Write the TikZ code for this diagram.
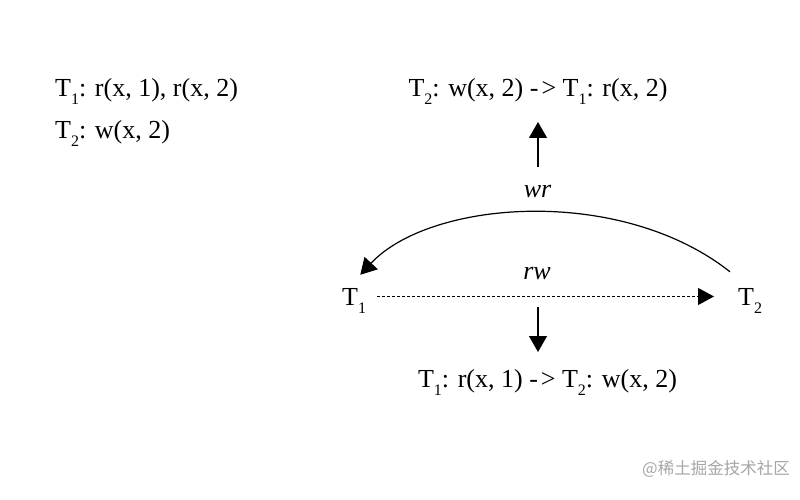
\documentclass[tikz,border=0pt]{standalone}
\usepackage{fontspec}
\setmainfont{Liberation Serif}
\newfontfamily\cjk{Noto Sans CJK SC}
\usetikzlibrary{arrows.meta}
\newcommand\sbs[1]{\raisebox{-8pt}{\fontsize{16}{16}\selectfont #1}}
\newcommand\arw{-\kern3pt>}
\begin{document}
\begin{tikzpicture}[x=1pt,y=-1pt,
  txt/.style={inner sep=0pt, font=\fontsize{26}{30}\selectfont},
  lbl/.style={inner sep=0pt, font=\fontsize{26}{30}\selectfont\itshape},
  arr/.style={line width=1.2pt, -{Triangle[length=16pt,width=18pt]}},
  dsh/.style={line width=1pt, dash pattern=on 3pt off 2pt, -{Triangle[length=16pt,width=17pt]}}]
\fill[white] (0,0) rectangle (800,500);
\useasboundingbox (0,0) rectangle (800,500);

% schedule text
\node[txt, anchor=base west] (l1) at (55,97) {T\sbs{1}: r(x, 1), r(x, 2)};
\node[txt, anchor=base west] (l2) at (55,139) {T\sbs{2}: w(x, 2)};

% dependency texts
\node[txt, anchor=base] (top) at (538,97) {T\sbs{2}: w(x, 2) \arw{} T\sbs{1}: r(x, 2)};
\node[txt, anchor=base] (bot) at (547.5,387) {T\sbs{1}: r(x, 1) \arw{} T\sbs{2}: w(x, 2)};

% transactions
\node[txt, anchor=base west] (T1) at (342,305) {T\sbs{1}};
\node[txt, anchor=base west] (T2) at (738,305) {T\sbs{2}};

% edge labels
\node[lbl, anchor=base] (wr) at (537.5,197) {wr};
\node[lbl, anchor=base] (rw) at (537,279) {rw};

% wr arc
\draw[arr] ([xshift=-8pt,yshift=16pt]T2.north west)
  .. controls (620,185) and (430,200) .. ([xshift=-6pt,yshift=13pt]T1.north east);

% rw dashed
\draw[dsh] ([xshift=11pt,yshift=4pt]T1.east) -- ([xshift=-24pt,yshift=4pt]T2.west);

% vertical arrows
\coordinate (upS) at (538,167);
\coordinate (upE) at (538,122);
\coordinate (dnS) at (538,307);
\coordinate (dnE) at (538,352);
\draw[arr] (upS) -- (upE);
\draw[arr] (dnS) -- (dnE);

% watermark
\node[anchor=east, inner sep=0pt, text=black!35, font=\cjk\fontsize{16.5}{16.5}\selectfont] (wm) at (790,469) {@稀土掘金技术社区};
\end{tikzpicture}
\end{document}
